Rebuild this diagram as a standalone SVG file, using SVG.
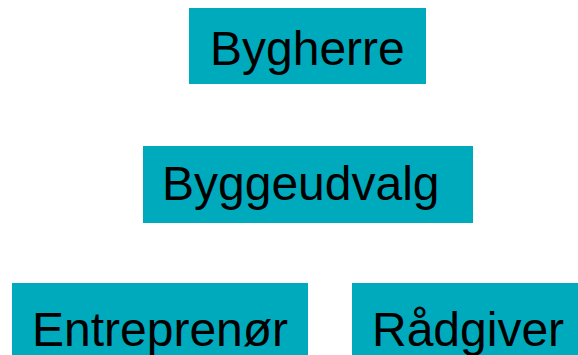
<svg xmlns="http://www.w3.org/2000/svg" width="578" height="355" viewBox="0 0 578 355">
<style>
.box{fill:#00AABD;}
.lbl{font-family:"Liberation Sans",Arial,sans-serif;font-size:48px;fill:#000;}
</style>
<rect width="578" height="355" fill="#fff"/>
<g id="bygherre"><rect class="box" x="189" y="8" width="237" height="76"/><text class="lbl" x="210" y="65">Bygherre</text></g>
<g id="byggeudvalg"><rect class="box" x="143" y="146" width="330" height="77"/><text class="lbl" x="162" y="200">Byggeudvalg</text></g>
<g id="entreprenor"><rect class="box" x="12" y="283" width="296" height="72"/><text class="lbl" x="32" y="346">Entreprenør</text></g>
<g id="radgiver"><rect class="box" x="352" y="283" width="226" height="72"/><text class="lbl" x="372" y="346">Rådgiver</text></g>
<g id="connectors"></g>
</svg>
